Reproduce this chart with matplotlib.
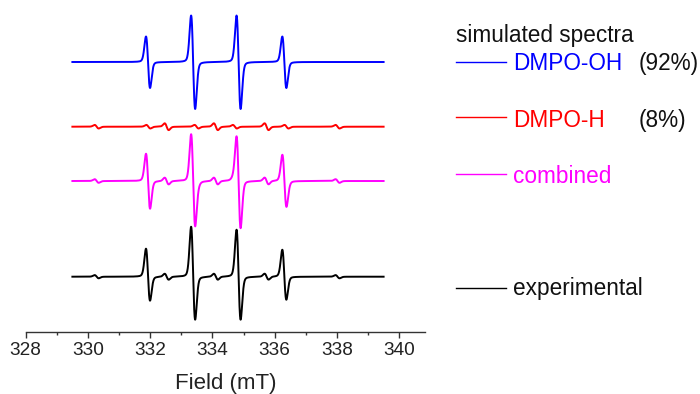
import numpy as np
import matplotlib.pyplot as plt
from matplotlib.lines import Line2D

plt.rcParams['font.family'] = ['Liberation Sans', 'DejaVu Sans']

# field range of the recorded / simulated spectra (mT)
field_start, field_end = 329.5, 339.5

# DMPO-OH quartet: line centres (mT) and derivative amplitudes (up / down lobes)
oh_pos = [331.93, 333.38, 334.84, 336.31]
oh_up = [25.5, 46.5, 46.5, 25.5]
oh_dn = [26.0, 47.0, 47.0, 26.0]

# DMPO-H nine-line pattern
h_pos = [330.28, 331.94, 332.53, 333.49, 334.11, 334.72, 335.74, 336.38, 338.02]
h_amp = [1.8, 1.8, 3.4, 1.8, 3.4, 1.8, 3.4, 1.8, 1.8]

# experimental spectrum
exp_pos = [331.93, 333.38, 334.84, 336.31]
exp_up = [28.0, 50.0, 47.0, 27.0]
exp_dn = [24.0, 43.0, 43.0, 23.0]
exp_h_pos = [330.28, 332.53, 334.11, 335.74, 338.02]
exp_h_amp = [1.6, 3.0, 3.0, 3.0, 1.6]

line_width = 0.13   # peak-to-peak width (mT)
lorentz_frac = 0.15

# vertical offsets of each trace
off_oh, off_h, off_comb, off_exp = 269.7, 205.0, 150.7, 55.0

field = np.linspace(field_start, field_end, 5001)


def deriv_line(x, c, up, dn, w=line_width):
    # gaussian derivative
    ug = (x - c) / (w / 2)
    sg = -ug * np.exp(-ug ** 2 / 2) / np.exp(-0.5)
    # lorentzian derivative
    ul = (x - c) / (w * np.sqrt(3) / 2)
    sl = -2 * ul / (1 + ul ** 2) ** 2 / 0.6495
    s = (1 - lorentz_frac) * sg + lorentz_frac * sl
    return np.where(s > 0, s * up, s * dn)


def spectrum(pos, up, dn):
    y = np.zeros_like(field)
    for c, a, b in zip(pos, up, dn):
        y += deriv_line(field, c, a, b)
    return y


oh = spectrum(oh_pos, oh_up, oh_dn)
hh = spectrum(h_pos, h_amp, h_amp)
comb = oh + hh
exp = spectrum(exp_pos, exp_up, exp_dn) + spectrum(exp_h_pos, exp_h_amp, exp_h_amp)

W, H = 700, 394
fig = plt.figure(figsize=(W / 100, H / 100), dpi=100)
ax = fig.add_axes([25.7 / W, (H - 331.7) / H, (425 - 25.7) / W, 331.7 / H])

ax.plot(field, oh + off_oh, color='#0000ff', lw=1.4)
ax.plot(field, hh + off_h, color='#ff0000', lw=1.4)
ax.plot(field, comb + off_comb, color='#ff00ff', lw=1.4)
ax.plot(field, exp + off_exp, color='black', lw=1.4)

ax.set_xlim(328, 340.83)
ax.set_ylim(0, 331.7)
ax.set_xticks(np.arange(328, 341, 2))
ax.set_xticks(np.arange(329, 341, 2), minor=True)
ax.set_yticks([])
for s in ['top', 'left', 'right']:
    ax.spines[s].set_visible(False)
ax.spines['bottom'].set_color('#333333')
ax.spines['bottom'].set_linewidth(1.0)
ax.tick_params(axis='x', which='major', direction='out', length=4.5, width=1.0,
               color='#333333', labelsize=13.7, labelcolor='#222222', pad=3)
ax.tick_params(axis='x', which='minor', direction='out', length=2.5, width=1.0,
               color='#333333')
ax.set_xlabel('Field (mT)', fontsize=16, color='#222222', labelpad=10)
ax.patch.set_alpha(0)


def fx(x):
    return x / W


def fy(y):
    return 1 - y / H


leg = [('DMPO-OH', '#0000ff', 61.7, 70.0, '(92%)'),
       ('DMPO-H', '#ff0000', 117.3, 126.7, '(8%)'),
       ('combined', '#ff00ff', 174.0, 182.7, None),
       ('experimental', 'black', 287.7, 295.0, None)]

fig.text(fx(455.7), fy(41.7), 'simulated spectra', fontsize=16.3,
         color='#111111', va='baseline', ha='left')
for name, col, ly, ty, pct in leg:
    fig.add_artist(Line2D([fx(455.7), fx(505.7)], [fy(ly), fy(ly)],
                          color=col, lw=1.0))
    tcol = '#111111' if col == 'black' else col
    fig.text(fx(513.3), fy(ty), name, fontsize=16.3, color=tcol,
             va='baseline', ha='left')
    if pct:
        fig.text(fx(638.5), fy(ty), pct, fontsize=16.3, color='#111111',
                 va='baseline', ha='left')

fig.savefig('out.png', dpi=100)
